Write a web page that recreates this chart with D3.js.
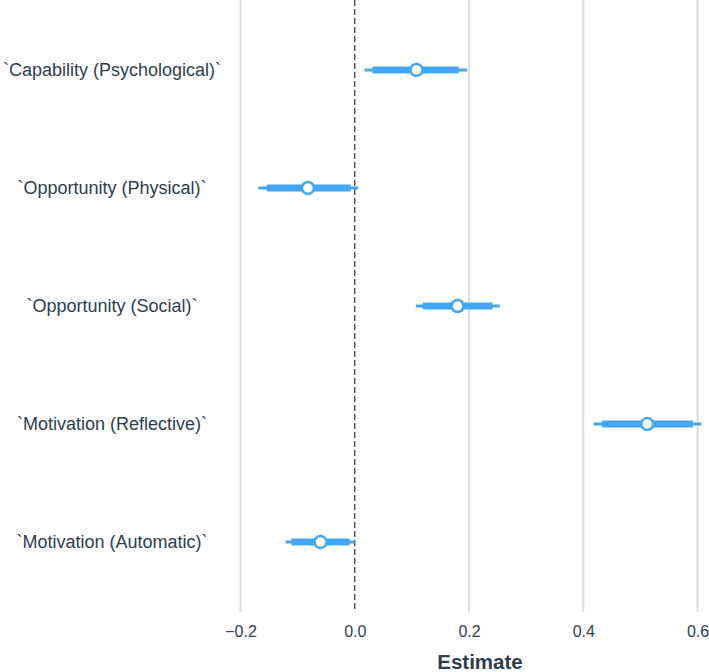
<!DOCTYPE html>
<html><head><meta charset="utf-8">
<script src="https://cdn.jsdelivr.net/npm/d3@7"></script>
<style>body{margin:0;background:#fff;}svg{display:block;font-family:"Liberation Sans",Arial,sans-serif;}</style>
</head><body>
<script>
const categories = ["`Capability (Psychological)`","`Opportunity (Physical)`","`Opportunity (Social)`","`Motivation (Reflective)`","`Motivation (Automatic)`"];
const estimate = [0.108, -0.082, 0.180, 0.512, -0.060];
const innerLow = [0.031, -0.154, 0.119, 0.433, -0.111];
const innerHigh = [0.182, -0.007, 0.241, 0.592, -0.009];
const outerLow = [0.017, -0.169, 0.107, 0.418, -0.121];
const outerHigh = [0.197, 0.006, 0.254, 0.607, 0.000];
const xTicks = [-0.2, 0, 0.2, 0.4, 0.6];

const W = 709, H = 672;
const blue = "#42a5f5", textCol = "#2c3e50";
const svg = d3.select("body").append("svg").attr("width", W).attr("height", H);
const x = d3.scaleLinear().domain([-0.2, 0.6]).range([240.5, 697.5]);
const y = d3.scalePoint().domain(categories).range([0, 612]).padding(0.593);

const data = categories.map((c,i)=>({c, est:estimate[i], il:innerLow[i], ih:innerHigh[i], ol:outerLow[i], oh:outerHigh[i]}));

// grid
svg.append("g").selectAll("line").data(xTicks.filter(t=>t!==0)).join("line")
  .attr("x1", d=>x(d)).attr("x2", d=>x(d)).attr("y1", 0).attr("y2", 612)
  .attr("stroke", "#dcdcdc").attr("stroke-width", 2);
svg.append("line").attr("x1", x(0)).attr("x2", x(0)).attr("y1", 0).attr("y2", 612)
  .attr("stroke", "#333").attr("stroke-width", 1.2).attr("stroke-dasharray", "6,3");

// axis
const xAxis = d3.axisBottom(x).tickValues(xTicks).tickSize(0).tickPadding(0)
  .tickFormat(d=>d3.format(".1f")(d).replace("-", "\u2212"));
const gx = svg.append("g").attr("transform", "translate(0,626)").call(xAxis);
gx.select(".domain").remove();
gx.selectAll("text").attr("font-size", 16).attr("fill", textCol).attr("font-family", '"Liberation Sans",Arial,sans-serif');

svg.append("text").attr("x", 480).attr("y", 669).attr("text-anchor", "middle")
  .attr("font-size", 20.5).attr("font-weight", "bold").attr("fill", textCol).text("Estimate");

// y labels
svg.append("g").selectAll("text").data(categories).join("text")
  .attr("x", 112).attr("y", d=>y(d)).attr("dy", "0.35em").attr("text-anchor", "middle")
  .attr("font-size", 18).attr("fill", textCol).text(d=>d);

// marks
const g = svg.append("g");
g.selectAll("line.outer").data(data).join("line").attr("class","outer")
  .attr("x1", d=>x(d.ol)).attr("x2", d=>x(d.oh)).attr("y1", d=>y(d.c)).attr("y2", d=>y(d.c))
  .attr("stroke", blue).attr("stroke-width", 3);
g.selectAll("line.inner").data(data).join("line").attr("class","inner")
  .attr("x1", d=>x(d.il)).attr("x2", d=>x(d.ih)).attr("y1", d=>y(d.c)).attr("y2", d=>y(d.c))
  .attr("stroke", blue).attr("stroke-width", 7);
g.selectAll("circle").data(data).join("circle")
  .attr("cx", d=>x(d.est)).attr("cy", d=>y(d.c)).attr("r", 6)
  .attr("fill", "#fff").attr("stroke", blue).attr("stroke-width", 2.5);
</script>
</body></html>
